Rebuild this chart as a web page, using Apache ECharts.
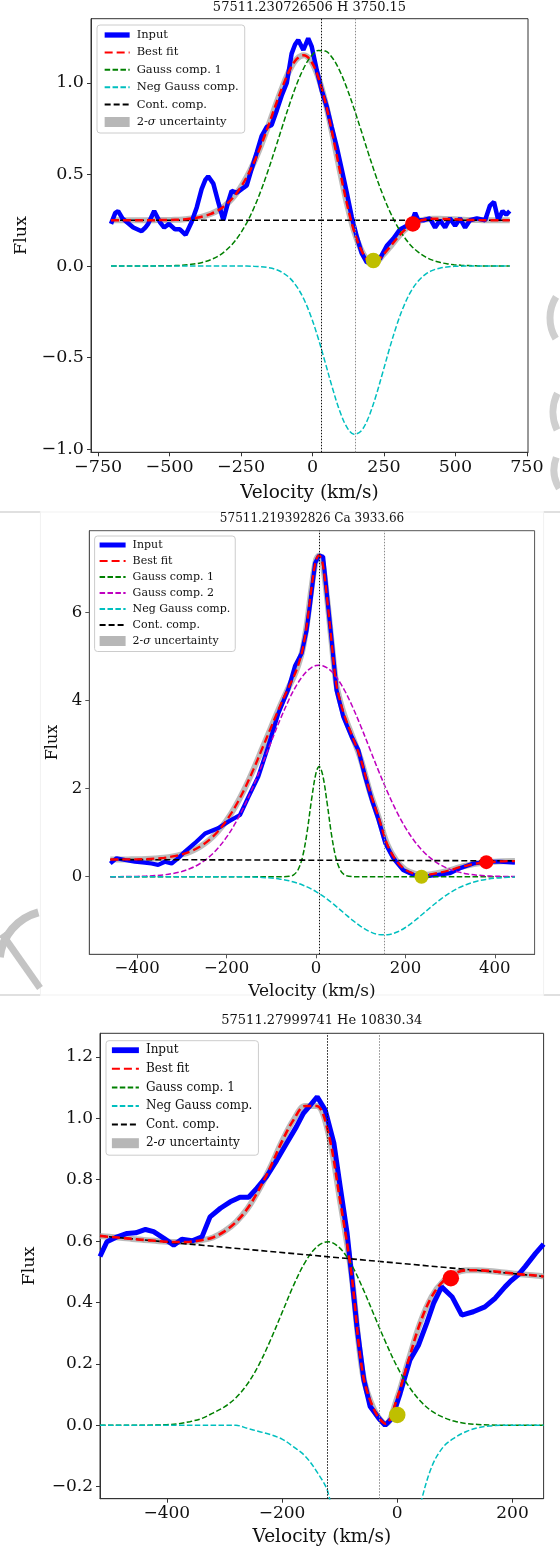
<!DOCTYPE html>
<html>
<head>
<meta charset="utf-8">
<script src="https://cdn.jsdelivr.net/npm/echarts@6/dist/echarts.min.js"></script>
<style>html,body{margin:0;padding:0;background:#fff}#chart{width:560px;height:1549px}</style>
</head>
<body>
<div id="chart"></div>
<script>
// ================= DATA =================
// ---- Panel 1: H 3750.15 ----
const hTitle = '57511.230726506 H 3750.15';
const hInput = [[-705,0.23],[-690,0.29],[-680,0.30],[-665,0.26],[-650,0.24],[-627,0.21],[-598,0.19],[-585,0.21],[-575,0.23],[-554,0.30],[-534,0.24],[-519,0.21],[-502,0.23],[-481,0.20],[-464,0.20],[-444,0.17],[-423,0.24],[-405,0.32],[-388,0.42],[-375,0.47],[-365,0.49],[-347,0.45],[-330,0.35],[-312,0.25],[-295,0.35],[-283,0.41],[-265,0.40],[-248,0.42],[-230,0.44],[-213,0.53],[-195,0.62],[-178,0.71],[-160,0.76],[-143,0.77],[-125,0.85],[-108,0.93],[-90,1.00],[-73,1.16],[-61,1.21],[-50,1.235],[-32,1.18],[-15,1.244],[-3,1.20],[15,1.07],[32,0.96],[50,0.87],[67,0.76],[85,0.65],[102,0.53],[120,0.40],[137,0.27],[155,0.16],[172,0.07],[190,0.02],[213,0.02],[236,0.04],[260,0.11],[283,0.15],[306,0.20],[330,0.22],[347,0.24],[359,0.29],[370,0.25],[388,0.25],[411,0.26],[429,0.21],[446,0.25],[464,0.21],[481,0.26],[499,0.22],[516,0.26],[534,0.21],[551,0.25],[575,0.26],[604,0.25],[621,0.33],[635,0.35],[650,0.25],[665,0.30],[678,0.28],[690,0.30]];
const hFitVel = [-705,-680,-655,-630,-605,-580,-555,-530,-505,-480,-455,-430,-405,-380,-355,-330,-305,-280,-255,-230,-205,-180,-155,-130,-105,-80,-55,-30,-5,20,45,70,95,120,145,170,195,220,245,270,295,320,345,370,395,420,445,470,495,520,545,570,595,620,645,670,690];
const hBestFit = [0.250,0.250,0.250,0.250,0.250,0.250,0.250,0.251,0.251,0.252,0.254,0.258,0.263,0.272,0.285,0.304,0.332,0.370,0.421,0.486,0.565,0.659,0.764,0.874,0.979,1.070,1.131,1.151,1.119,1.032,0.894,0.718,0.526,0.343,0.192,0.089,0.030,0.020,0.057,0.102,0.150,0.193,0.224,0.244,0.254,0.258,0.258,0.256,0.255,0.253,0.251,0.251,0.250,0.250,0.250,0.250,0.250];
const hGauss1 = [0,0,0,0,0,0,0,0.001,0.001,0.002,0.004,0.008,0.013,0.022,0.035,0.054,0.082,0.120,0.171,0.236,0.317,0.413,0.523,0.642,0.765,0.885,0.994,1.083,1.146,1.177,1.174,1.136,1.067,0.973,0.861,0.741,0.618,0.500,0.393,0.300,0.222,0.160,0.111,0.076,0.050,0.032,0.020,0.012,0.007,0.004,0.002,0.001,0,0,0,0,0];
const hNegGauss = [0,0,0,0,0,0,0,0,0,0,0,0,0,0,0,0,0,0,0,0,-0.002,-0.004,-0.009,-0.018,-0.036,-0.065,-0.113,-0.182,-0.277,-0.395,-0.530,-0.668,-0.791,-0.880,-0.919,-0.902,-0.831,-0.720,-0.586,-0.448,-0.322,-0.217,-0.137,-0.082,-0.046,-0.024,-0.012,-0.006,-0.002,-0.001,0,0,0,0,0,0,0];
const hContVel = [-705, 690];
const hCont = [0.25, 0.25];
const hRefVel = [30, 150];
const hRedDot = [351, 0.23];
const hYellowDot = [213, 0.03];
const hXTicks = [-750, -500, -250, 0, 250, 500, 750];
const hYTicks = [-1, -0.5, 0, 0.5, 1];

// ---- Panel 2: Ca 3933.66 ----
const caTitle = '57511.219392826 Ca 3933.66';
const caInput = [[-460,0.30],[-446,0.42],[-427,0.38],[-405,0.34],[-383,0.32],[-368,0.30],[-353,0.27],[-338,0.34],[-323,0.30],[-308,0.42],[-293,0.57],[-271,0.76],[-248,0.98],[-219,1.10],[-196,1.25],[-170,1.40],[-151,1.81],[-129,2.27],[-107,2.95],[-84,3.71],[-62,4.25],[-47,4.78],[-32,5.07],[-21,5.59],[-13,6.20],[-2,7.11],[7,7.29],[16,7.26],[25,6.35],[35,5.37],[46,4.23],[61,3.63],[80,3.17],[95,2.87],[110,2.27],[125,1.74],[140,1.29],[155,0.76],[173,0.42],[195,0.15],[218,0.04],[240,0.0],[270,0.04],[300,0.08],[322,0.19],[352,0.30],[382,0.34],[412,0.34],[445,0.32]];
const caFitVel = [-460,-440,-420,-400,-380,-360,-340,-320,-300,-280,-260,-240,-220,-200,-180,-160,-140,-120,-100,-80,-60,-50,-40,-30,-20,-10,0,7,15,25,35,45,55,65,80,100,120,140,160,180,200,220,240,260,280,300,320,340,360,380,400,420,445];
const caBestFit = [0.391,0.391,0.393,0.395,0.401,0.412,0.429,0.459,0.505,0.575,0.678,0.823,1.021,1.278,1.600,1.988,2.430,2.915,3.40,3.88,4.32,4.53,4.79,5.15,5.75,6.55,7.18,7.29,7.10,6.30,5.32,4.40,3.95,3.62,3.22,2.67,1.95,1.35,0.72,0.36,0.16,0.07,0.04,0.06,0.10,0.15,0.21,0.26,0.30,0.33,0.34,0.35,0.355];
const caGauss1 = [0,0,0,0,0,0,0,0,0,0,0,0,0,0,0,0,0,0,0,0,0.009,0.043,0.158,0.452,1.005,1.742,2.351,2.5,2.308,1.667,0.938,0.411,0.140,0.037,0.003,0,0,0,0,0,0,0,0,0,0,0,0,0,0,0,0,0,0];
const caGauss2 = [0.001,0.002,0.004,0.007,0.014,0.025,0.043,0.073,0.120,0.191,0.294,0.440,0.638,0.897,1.221,1.611,2.059,2.553,3.066,3.569,4.026,4.226,4.402,4.549,4.665,4.746,4.791,4.8,4.788,4.739,4.655,4.536,4.386,4.208,3.896,3.421,2.911,2.401,1.920,1.487,1.116,0.812,0.573,0.392,0.259,0.167,0.104,0.062,0.036,0.021,0.011,0.006,0.003];
const caNegGauss = [0,0,0,0,0,0,0,0,0,0,0,0,0,-0.001,-0.002,-0.004,-0.009,-0.017,-0.031,-0.055,-0.093,-0.119,-0.150,-0.187,-0.230,-0.280,-0.337,-0.381,-0.435,-0.509,-0.588,-0.671,-0.757,-0.844,-0.972,-1.125,-1.243,-1.309,-1.315,-1.260,-1.152,-1.004,-0.835,-0.663,-0.501,-0.362,-0.249,-0.164,-0.102,-0.061,-0.035,-0.019,-0.008];
const caContVel = [-460, 445];
const caCont = [0.39, 0.36];
const caRefVel = [7, 152];
const caRedDot = [381, 0.33];
const caYellowDot = [236, 0.0];
const caXTicks = [-400, -200, 0, 200, 400];
const caYTicks = [0, 2, 4, 6];

// ---- Panel 3: He 10830.34 ----
const heTitle = '57511.27999741 He 10830.34';
const heInput = [[-516,0.55],[-504,0.598],[-486,0.614],[-469,0.625],[-454,0.627],[-437,0.638],[-423,0.631],[-405,0.609],[-388,0.587],[-374,0.606],[-356,0.601],[-339,0.614],[-325,0.679],[-307,0.707],[-290,0.728],[-273,0.743],[-258,0.743],[-244,0.772],[-227,0.81],[-209,0.864],[-192,0.919],[-175,0.973],[-163,1.016],[-150,1.045],[-139,1.07],[-125,1.027],[-110,0.919],[-99,0.777],[-87,0.625],[-79,0.484],[-70,0.321],[-58,0.148],[-47,0.061],[-32,0.023],[-21,0.0],[-9,0.023],[5,0.104],[22,0.213],[37,0.262],[51,0.332],[63,0.397],[77,0.451],[95,0.419],[112,0.359],[132,0.37],[152,0.386],[170,0.414],[187,0.451],[197,0.47],[210,0.49],[222,0.517],[240,0.56],[254,0.59]];
const heFitVel = [-516,-500,-480,-460,-440,-420,-400,-380,-360,-340,-320,-300,-280,-260,-240,-220,-200,-180,-160,-140,-120,-100,-80,-60,-40,-20,0,20,40,60,80,100,120,140,160,180,200,220,240,254];
const heBestFit = [0.617,0.614,0.611,0.607,0.604,0.601,0.598,0.597,0.598,0.603,0.612,0.632,0.662,0.706,0.768,0.842,0.925,0.995,1.04,1.04,0.955,0.74,0.50,0.17,0.05,0.005,0.09,0.215,0.335,0.42,0.47,0.495,0.505,0.505,0.503,0.499,0.495,0.491,0.488,0.485];
const heGauss1 = [0,0,0,0,0,0.001,0.002,0.005,0.012,0.022,0.04,0.06,0.09,0.135,0.198,0.278,0.367,0.456,0.531,0.581,0.598,0.578,0.525,0.447,0.358,0.270,0.190,0.127,0.079,0.046,0.026,0.013,0.006,0.003,0.001,0,0,0,0,0];
const heNegGauss = [0,0,0,0,0,0,0,0,0,0,0,0,0,-0.01,-0.02,-0.03,-0.045,-0.07,-0.10,-0.15,-0.22,-0.437,-0.632,-0.79,-0.85,-0.79,-0.632,-0.437,-0.26,-0.134,-0.07,-0.04,-0.02,-0.008,-0.002,0,0,0,0,0];
const heContVel = [-516, 254];
const heCont = [0.617, 0.485];
const heRefVel = [-121, -32];
const heRedDot = [93, 0.479];
const heYellowDot = [0, 0.034];
const heXTicks = [-400, -200, 0, 200];
const heYTicks = [-0.2, 0, 0.2, 0.4, 0.6, 0.8, 1.0, 1.2];

// ================= STYLE / LAYOUT =================
const FONT = 'DejaVu Serif';
const TXT = '#111';
const C = { input: '#0000ff', fit: '#ff0000', g1: '#008000', g2: '#bf00bf', neg: '#00bfbf', cont: '#000000', band: '#aaaaaa', red: '#ff0000', yellow: '#bfbf00' };

const zip = (xs, ys) => xs.map((x, i) => [x, ys[i]]);
const fmt = d => v => (v < -1e-9 ? '\u2212' : '') + Math.abs(v).toFixed(d);

const panels = [
  {
    title: hTitle, titleX: 309.5, titleY: 7.3, titleSize: 13,
    grid: { left: 91, top: 18.7, width: 437, height: 433.6 },
    xr: [-775, 754], yr: [-1.018, 1.351], xTicks: hXTicks, yTicks: hYTicks, ydec: 1,
    tickSize: 17.5, nameSize: 18.5, xGap: 31, yGap: 61, spine: '#333',
    input: hInput, fitVel: hFitVel, best: hBestFit,
    comps: [{ name: 'Gauss comp. 1', color: C.g1, vals: hGauss1 }, { name: 'Neg Gauss comp.', color: C.neg, vals: hNegGauss }],
    contVel: hContVel, cont: hCont, refVel: hRefVel, redDot: hRedDot, yellowDot: hYellowDot,
    inputW: 4.5, fitW: 2.5, dot: 15.5,
    legend: { left: 97, top: 25, size: 11.5, lh: 14, gap: 3.4, pad: [3, 6, 4, 5], iw: 25 }
  },
  {
    title: caTitle, titleX: 312, titleY: 519.3, titleSize: 12,
    grid: { left: 89.3, top: 530.7, width: 445.3, height: 423.6 },
    xr: [-507, 489], yr: [-1.76, 7.85], xTicks: caXTicks, yTicks: caYTicks, ydec: 0,
    tickSize: 16.5, nameSize: 17, xGap: 28.5, yGap: 26, spine: '#555',
    input: caInput, fitVel: caFitVel, best: caBestFit,
    comps: [{ name: 'Gauss comp. 1', color: C.g1, vals: caGauss1 }, { name: 'Gauss comp. 2', color: C.g2, vals: caGauss2 }, { name: 'Neg Gauss comp.', color: C.neg, vals: caNegGauss }],
    contVel: caContVel, cont: caCont, refVel: caRefVel, redDot: caRedDot, yellowDot: caYellowDot,
    inputW: 4.2, fitW: 2.3, dot: 14,
    legend: { left: 94.6, top: 536, size: 11, lh: 13, gap: 3, pad: [2.5, 5, 4, 2.5], iw: 26 }
  },
  {
    title: heTitle, titleX: 321.8, titleY: 1021, titleSize: 13,
    grid: { left: 100, top: 1033.3, width: 443.6, height: 465.4 },
    xr: [-516, 254], yr: [-0.239, 1.277], xTicks: heXTicks, yTicks: heYTicks, ydec: 1,
    tickSize: 17, nameSize: 18.5, xGap: 29, yGap: 61.5, spine: '#333',
    input: heInput, fitVel: heFitVel, best: heBestFit,
    comps: [{ name: 'Gauss comp. 1', color: C.g1, vals: heGauss1 }, { name: 'Neg Gauss comp.', color: C.neg, vals: heNegGauss }],
    contVel: heContVel, cont: heCont, refVel: heRefVel, redDot: heRedDot, yellowDot: heYellowDot,
    inputW: 5, fitW: 2.6, dot: 16.5,
    legend: { left: 106, top: 1040.7, size: 12, lh: 14, gap: 4.6, pad: [2.5, 6, 5, 3], iw: 27 }
  }
];

const option = { backgroundColor: '#ffffff', animation: false, title: [], grid: [], xAxis: [], yAxis: [], legend: [], series: [], graphic: [] };

panels.forEach((P, i) => {
  option.title.push({ text: P.title, left: P.titleX, top: P.titleY, textAlign: 'center', textVerticalAlign: 'middle', padding: 0,
    textStyle: { fontFamily: FONT, fontSize: P.titleSize, fontWeight: 'normal', color: TXT } });
  option.grid.push(Object.assign({ show: true, borderColor: P.spine, borderWidth: 1, backgroundColor: 'transparent', containLabel: false }, P.grid));
  option.xAxis.push({
    gridIndex: i, type: 'value', min: P.xr[0], max: P.xr[1],
    axisLine: { show: true, onZero: false, lineStyle: { color: P.spine, width: 1 } },
    axisTick: { show: true, length: 4, customValues: P.xTicks, lineStyle: { color: P.spine } },
    axisLabel: { show: true, customValues: P.xTicks, formatter: fmt(0), fontFamily: FONT, fontSize: P.tickSize, color: TXT, margin: 6 },
    splitLine: { show: false },
    name: 'Velocity (km/s)', nameLocation: 'middle', nameGap: P.xGap,
    nameTextStyle: { fontFamily: FONT, fontSize: P.nameSize, color: TXT }
  });
  option.yAxis.push({
    gridIndex: i, type: 'value', min: P.yr[0], max: P.yr[1],
    axisLine: { show: true, onZero: false, lineStyle: { color: P.spine, width: 1 } },
    axisTick: { show: true, length: 4, customValues: P.yTicks, lineStyle: { color: P.spine } },
    axisLabel: { show: true, customValues: P.yTicks, formatter: fmt(P.ydec), fontFamily: FONT, fontSize: P.tickSize, color: TXT, margin: 7 },
    splitLine: { show: false },
    name: 'Flux', nameLocation: 'middle', nameGap: P.yGap,
    nameTextStyle: { fontFamily: FONT, fontSize: P.nameSize - 1, color: TXT }
  });

  const base = { xAxisIndex: i, yAxisIndex: i, emphasis: { disabled: true }, silent: true, animation: false };
  const line = (name, data, color, width, type, z, extra) => Object.assign({ type: 'line', name, data, z,
    symbol: 'none', showSymbol: false,
    lineStyle: { color, width, type }, itemStyle: { color } }, base, extra || {});

  const fitData = zip(P.fitVel, P.best);
  // 2-sigma band (drawn underneath)
  option.series.push(line('2-σ uncertainty', fitData, C.band, 6, 'solid', 1, { smooth: 0.35, lineStyle: { color: C.band, width: 6, opacity: 0.8 } }));
  // Input spectrum
  option.series.push(line('Input', P.input, C.input, P.inputW, 'solid', 2));
  // Components
  P.comps.forEach(c => option.series.push(line(c.name, zip(P.fitVel, c.vals), c.color, 1.5, [5.5, 2.4], 3, { smooth: 0.35 })));
  // Continuum + reference velocity markers
  option.series.push(line('Cont. comp.', zip(P.contVel, P.cont), C.cont, 1.6, [6, 3], 3, {
    markLine: { silent: true, symbol: ['none', 'none'], label: { show: false }, animation: false, emphasis: { disabled: true },
      data: [
        { xAxis: P.refVel[0], lineStyle: { color: '#111', width: 1, type: [1.5, 1.5] } },
        { xAxis: P.refVel[1], lineStyle: { color: '#8a8a8a', width: 1, type: [1.5, 1.5] } }
      ] }
  }));
  // Best fit
  option.series.push(line('Best fit', fitData, C.fit, P.fitW, [8, 4], 4, { smooth: 0.35 }));
  // Markers
  option.series.push(Object.assign({ type: 'scatter', name: 'marker-red', data: [P.redDot], symbol: 'circle', symbolSize: P.dot, itemStyle: { color: C.red, opacity: 1 }, z: 6 }, base));
  option.series.push(Object.assign({ type: 'scatter', name: 'marker-yellow', data: [P.yellowDot], symbol: 'circle', symbolSize: P.dot, itemStyle: { color: C.yellow, opacity: 1 }, z: 6 }, base));

  const L = P.legend;
  const names = ['Input', 'Best fit'].concat(P.comps.filter(c => c.name !== 'Neg Gauss comp.').map(c => c.name), ['Neg Gauss comp.', 'Cont. comp.']);
  const data = names.map(n => n === 'Input' ? { name: n, lineStyle: { width: P.inputW + 0.8 } } : { name: n });
  data.push({ name: '2-σ uncertainty', icon: 'rect', itemStyle: { opacity: 0.85, color: C.band } });
  option.legend.push({
    show: true, orient: 'vertical', left: L.left, top: L.top, padding: L.pad,
    itemWidth: L.iw, itemHeight: 10, itemGap: L.gap, selectedMode: false,
    backgroundColor: 'rgba(255,255,255,0.85)', borderColor: '#cccccc', borderWidth: 1, borderRadius: 3,
    itemStyle: { opacity: 0 },
    formatter: n => n === '2-σ uncertainty' ? '2-{i|σ} uncertainty' : n,
    textStyle: { fontFamily: FONT, fontSize: L.size, color: TXT, lineHeight: L.lh, padding: [0, 0, 0, 2],
      rich: { i: { fontFamily: FONT, fontSize: L.size, fontStyle: 'italic', color: TXT, lineHeight: L.lh } } },
    data
  });
});

// decorative frame lines / faint watermark strokes from the source composite
const G = '#d6d6d6';
option.graphic = [
  { type: 'line', silent: true, shape: { x1: 0, y1: 512, x2: 40.4, y2: 512 }, style: { stroke: G, lineWidth: 1.5 } },
  { type: 'line', silent: true, shape: { x1: 543.6, y1: 512, x2: 560, y2: 512 }, style: { stroke: G, lineWidth: 1.5 } },
  { type: 'line', silent: true, shape: { x1: 0, y1: 995, x2: 40.4, y2: 995 }, style: { stroke: G, lineWidth: 1.5 } },
  { type: 'line', silent: true, shape: { x1: 543.6, y1: 995, x2: 560, y2: 995 }, style: { stroke: G, lineWidth: 1.5 } },
  { type: 'rect', silent: true, shape: { x: 40.4, y: 512, width: 503.2, height: 483 }, style: { fill: 'none', stroke: '#f1f1f1', lineWidth: 1 } },
  { type: 'arc', silent: true, shape: { cx: 52, cy: 963, r: 52.5, startAngle: 3.25, endAngle: 4.45 }, style: { fill: 'none', stroke: '#c4c4c4', lineWidth: 8 } },
  { type: 'line', silent: true, shape: { x1: 2, x2: 40, y1: 934, y2: 988 }, style: { stroke: '#c4c4c4', lineWidth: 7 } },
  { type: 'arc', silent: true, shape: { cx: 590, cy: 318, r: 40, startAngle: 2.6, endAngle: 3.7 }, style: { fill: 'none', stroke: '#cfcfcf', lineWidth: 7 } },
  { type: 'arc', silent: true, shape: { cx: 595, cy: 412, r: 42, startAngle: 2.7, endAngle: 3.6 }, style: { fill: 'none', stroke: '#cfcfcf', lineWidth: 7 } },
  { type: 'arc', silent: true, shape: { cx: 590, cy: 470, r: 36, startAngle: 2.6, endAngle: 3.5 }, style: { fill: 'none', stroke: '#cfcfcf', lineWidth: 7 } }
];

const chart = echarts.init(document.getElementById('chart'), null, { renderer: 'canvas' });
chart.setOption(option);
</script>
</body>
</html>
